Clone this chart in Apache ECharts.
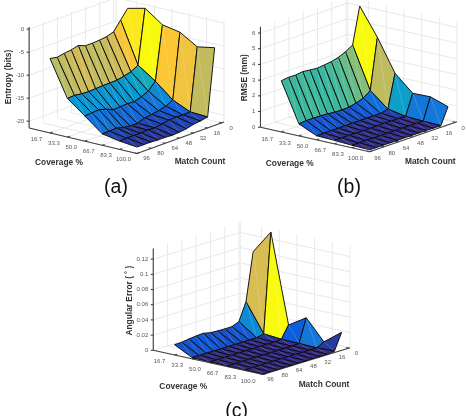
<!DOCTYPE html>
<html>
<head>
<meta charset="utf-8">
<style>html,body{margin:0;padding:0;background:#fff}#chart{width:466px;height:416px}</style>
<script src="https://cdn.jsdelivr.net/npm/echarts@6/dist/echarts.min.js"></script>
</head>
<body>
<div id="chart"></div>
<script>
// Axis values shared by the three surfaces
const coverageValues = [16.67, 33.33, 50, 66.67, 83.33, 100];
const coverageTicks = ['16.7', '33.3', '50.0', '66.7', '83.3', '100.0'];
const matchValues = [96, 88, 80, 72, 64, 56, 48, 40, 32, 24, 16, 8];
const matchTicks = [0, 16, 32, 48, 64, 80, 96];

// One row per coverage value, each listed in matchValues order
const entropyBits = [
  [-5.3, -5.6, -5.3, -5.1, -4.7, -5.3, -5.3, -5.2, -5.0, -4.5, -2.5, -0.5],
  [-13.1, -13.0, -13.2, -13.3, -13.2, -13.1, -13.1, -13.0, -12.7, -12.3, -11.4, 0.4],
  [-16.0, -15.9, -15.8, -16.2, -16.9, -16.8, -16.7, -16.8, -16.3, -15.6, -14.0, -2.3],
  [-19.0, -19.0, -18.9, -19.3, -19.5, -19.5, -18.9, -18.7, -18.4, -18.0, -17.2, -3.0],
  [-19.7, -19.6, -19.6, -19.6, -19.5, -19.6, -19.3, -19.0, -18.9, -19.0, -18.9, -5.3],
  [-20.1, -20.1, -20.1, -20.2, -20.2, -20.3, -20.2, -20.0, -19.6, -19.4, -19.1, -4.6]
];
const rmseMm = [
  [3.26, 3.32, 3.31, 3.37, 3.32, 3.27, 3.32, 3.38, 3.50, 3.70, 3.97, 6.30],
  [0.76, 0.81, 0.81, 0.80, 0.77, 0.72, 0.71, 0.73, 0.83, 0.99, 1.32, 4.56],
  [0.26, 0.26, 0.27, 0.26, 0.27, 0.27, 0.28, 0.28, 0.28, 0.28, 0.40, 2.52],
  [0.22, 0.21, 0.22, 0.20, 0.21, 0.20, 0.20, 0.21, 0.20, 0.20, 0.18, 1.50],
  [0.16, 0.15, 0.16, 0.15, 0.15, 0.16, 0.15, 0.15, 0.14, 0.15, 0.13, 1.53],
  [0.12, 0.11, 0.12, 0.11, 0.11, 0.12, 0.11, 0.11, 0.11, 0.10, 0.10, 1.15]
];
const angularErrorDeg = [
  [0.0136, 0.0138, 0.0153, 0.0163, 0.0170, 0.0149, 0.0142, 0.0139, 0.0141, 0.0178, 0.0412, 0.1040],
  [0.0016, 0.0016, 0.0017, 0.0016, 0.0016, 0.0017, 0.0016, 0.0016, 0.0017, 0.0018, 0.0040, 0.1350],
  [0.0012, 0.0012, 0.0012, 0.0011, 0.0012, 0.0012, 0.0011, 0.0012, 0.0012, 0.0012, 0.0020, 0.0179],
  [0.0010, 0.0010, 0.0011, 0.0010, 0.0010, 0.0010, 0.0010, 0.0011, 0.0010, 0.0010, 0.0016, 0.0325],
  [0.0010, 0.0010, 0.0010, 0.0010, 0.0009, 0.0010, 0.0010, 0.0010, 0.0009, 0.0010, 0.0010, 0.0060],
  [0.0008, 0.0009, 0.0008, 0.0009, 0.0008, 0.0009, 0.0008, 0.0009, 0.0008, 0.0009, 0.0020, 0.0237]
];

const entropyTicks = [0, -5, -10, -15, -20];
const rmseTicks = [0, 1, 2, 3, 4, 5, 6];
const angularTicks = [0, 0.02, 0.04, 0.06, 0.08, 0.1, 0.12];

// Colormap stops, low to high
const colorStops = [
  [53, 42, 135], [15, 92, 221], [18, 125, 216], [6, 156, 207], [45, 183, 164],
  [135, 191, 119], [209, 187, 89], [254, 200, 50], [249, 251, 14]
];

// View of each box: position of the (coverage 100, match 96) floor corner,
// pixel step per coverage tick and per match step of 8, vertical scale.
const panels = [
  { rows: entropyBits, zTicks: entropyTicks, zTitle: 'Entropy (bits)', caption: '(a)',
    front: [137, 153.5], covStep: [17.4, 4.1], matchStep: [7.06, -2.55], zScale: 4.6,
    zFloor: -21.5, zTop: 0.5, covSpan: 6.2, matchSpan: 12.32,
    covLabel: [-13.5, 6], matchLabel: [9.5, 5],
    zTitlePos: [9, 77], covTitlePos: [59, 163], matchTitlePos: [200, 162], captionPos: [116, 188] },
  { rows: rmseMm, zTicks: rmseTicks, zTitle: 'RMSE (mm)', caption: '(b)',
    front: [369.6, 151.7], covStep: [17.66, 3.96], matchStep: [7.13, -2.45], zScale: 15.7,
    zFloor: 0, zTop: 6.4, covSpan: 6.18, matchSpan: 12.26,
    covLabel: [-14, 7], matchLabel: [8, 6.5],
    zTitlePos: [244.7, 77.7], covTitlePos: [289.7, 163.3], matchTitlePos: [430.3, 162], captionPos: [349, 188] },
  { rows: angularErrorDeg, zTicks: angularTicks, zTitle: 'Angular Error ( ˚ )', caption: '(c)',
    front: [263, 374.5], covStep: [17.7, 3.9], matchStep: [7.15, -2.2], zScale: 760,
    zFloor: 0, zTop: 0.134, covSpan: 6.2, matchSpan: 12.17,
    covLabel: [-15, 6.5], matchLabel: [7.5, 5],
    zTitlePos: [130, 300.7], covTitlePos: [183.3, 386.3], matchTitlePos: [324, 385], captionPos: [236.7, 411.7] }
];

panels.forEach(p => {
  const all = p.rows.flat();
  p.cMin = Math.min(...all);
  p.cMax = Math.max(...all);
  p.covMin = 100 - p.covSpan * (100 / 6);
  p.matchMin = 96 - p.matchSpan * 8;
});

// Orthographic projection of (coverage, match, height) into chart space
function project(p, cov, match, z) {
  const a = (100 - cov) / (100 / 6);
  const b = (96 - match) / 8;
  return [
    p.front[0] - a * p.covStep[0] + b * p.matchStep[0],
    p.front[1] - a * p.covStep[1] + b * p.matchStep[1] - (z - p.zFloor) * p.zScale
  ];
}

function colorFor(p, z) {
  const t = Math.max(0, Math.min(1, (z - p.cMin) / (p.cMax - p.cMin))) * (colorStops.length - 1);
  const k = Math.min(colorStops.length - 2, Math.floor(t));
  const f = t - k;
  const c = colorStops[k].map((v, n) => Math.round(v + (colorStops[k + 1][n] - v) * f));
  return 'rgb(' + c.join(',') + ')';
}

// Wall and floor rules, axis lines and tick marks for one box
function frameLines(p) {
  const grid = [], axis = [];
  const cm = p.covMin, mm = p.matchMin, zf = p.zFloor, zt = p.zTop;
  const seg = (list, a, b) => list.push([a, b]);
  p.zTicks.forEach(z => {
    seg(grid, project(p, cm, 96, z), project(p, cm, mm, z));
    seg(grid, project(p, cm, mm, z), project(p, 100, mm, z));
  });
  coverageValues.forEach(c => {
    seg(grid, project(p, c, 96, zf), project(p, c, mm, zf));
    seg(grid, project(p, c, mm, zf), project(p, c, mm, zt));
  });
  matchTicks.forEach(m => {
    seg(grid, project(p, cm, m, zf), project(p, 100, m, zf));
    seg(grid, project(p, cm, m, zf), project(p, cm, m, zt));
  });
  seg(grid, project(p, cm, mm, zf), project(p, cm, mm, zt));
  seg(axis, project(p, cm, 96, zf), project(p, cm, 96, zt));
  seg(axis, project(p, cm, 96, zf), project(p, 100, 96, zf));
  seg(axis, project(p, 100, 96, zf), project(p, 100, mm, zf));
  p.zTicks.forEach(z => {
    const q = project(p, cm, 96, z);
    seg(axis, q, [q[0] - 2.5, q[1]]);
  });
  coverageValues.forEach(c => {
    const q = project(p, c, 96, zf);
    seg(axis, q, [q[0] + p.matchStep[0] * 0.35, q[1] + p.matchStep[1] * 0.35]);
  });
  matchTicks.forEach(m => {
    const q = project(p, 100, m, zf);
    seg(axis, q, [q[0] - p.covStep[0] * 0.14, q[1] - p.covStep[1] * 0.14]);
  });
  return { grid, axis };
}

const gridSegs = [], axisSegs = [];
panels.forEach(p => {
  const f = frameLines(p);
  gridSegs.push(...f.grid);
  axisSegs.push(...f.axis);
});

// Far cells first so that nearer ones paint over them
const cellData = [];
panels.forEach((p, pi) => {
  for (let i = 0; i < coverageValues.length - 1; i++) {
    for (let j = matchValues.length - 2; j >= 0; j--) cellData.push([pi, i, j]);
  }
});

// Text items: [text, x, y, size, weight, colour, align, rotation]
const textData = [];
const tickColor = '#585858', titleColor = '#333333';
panels.forEach(p => {
  p.zTicks.forEach(z => {
    const q = project(p, p.covMin, 96, z);
    textData.push([String(z), q[0] - 5, q[1], 6, 'normal', tickColor, 'right', 0]);
  });
  coverageTicks.forEach((t, n) => {
    const q = project(p, coverageValues[n], 96, p.zFloor);
    textData.push([t, q[0] + p.covLabel[0], q[1] + p.covLabel[1], 6, 'normal', tickColor, 'center', 0]);
  });
  matchTicks.forEach(m => {
    const q = project(p, 100, m, p.zFloor);
    textData.push([String(m), q[0] + p.matchLabel[0], q[1] + p.matchLabel[1], 6, 'normal', tickColor, 'center', 0]);
  });
  textData.push([p.zTitle, p.zTitlePos[0], p.zTitlePos[1], 8.4, 'bold', titleColor, 'center', Math.PI / 2]);
  textData.push(['Coverage %', p.covTitlePos[0], p.covTitlePos[1], 8.4, 'bold', titleColor, 'center', 0]);
  textData.push(['Match Count', p.matchTitlePos[0], p.matchTitlePos[1], 8.4, 'bold', titleColor, 'center', 0]);
  textData.push([p.caption, p.captionPos[0], p.captionPos[1], 19.5, 'normal', '#111', 'center', 0]);
});

function segSeries(segs, color, width) {
  return {
    type: 'custom', xAxisIndex: 0, yAxisIndex: 0, silent: true,
    data: segs.map((s, n) => [n]),
    renderItem(params, api) {
      const s = segs[params.dataIndex];
      const a = api.coord(s[0]), b = api.coord(s[1]);
      return { type: 'line', shape: { x1: a[0], y1: a[1], x2: b[0], y2: b[1] },
               style: { stroke: color, lineWidth: width, fill: null } };
    }
  };
}

const chart = echarts.init(document.getElementById('chart'), null, { renderer: 'canvas' });
chart.setOption({
  animation: false,
  backgroundColor: '#fff',
  grid: { left: 0, right: 0, top: 0, bottom: 0 },
  xAxis: { type: 'value', min: 0, max: 466, show: false },
  yAxis: { type: 'value', min: 0, max: 416, inverse: true, show: false },
  series: [
    segSeries(gridSegs, '#e9e9e9', 1),
    segSeries(axisSegs, '#404040', 1.1),
    {
      type: 'custom', silent: true, clip: false,
      data: cellData,
      renderItem(params, api) {
        const [pi, i, j] = cellData[params.dataIndex];
        const p = panels[pi];
        const pt = (a, b) => api.coord(project(p, coverageValues[a], matchValues[b], p.rows[a][b]));
        const c00 = pt(i, j), c01 = pt(i, j + 1), c11 = pt(i + 1, j + 1), c10 = pt(i + 1, j);
        return {
          type: 'group',
          children: [
            { type: 'polygon', shape: { points: [c00, c01, c11, c10] },
              style: { fill: colorFor(p, p.rows[i][j + 1]), stroke: '#0c0c0c', lineWidth: 0.95, lineJoin: 'round' } },
            { type: 'line', shape: { x1: c01[0], y1: c01[1], x2: c10[0], y2: c10[1] },
              style: { stroke: 'rgba(255,255,255,0.28)', lineWidth: 0.6 } }
          ]
        };
      }
    },
    {
      type: 'custom', silent: true, clip: false,
      data: textData.map((t, n) => [n]),
      renderItem(params, api) {
        const t = textData[params.dataIndex];
        const q = api.coord([t[1], t[2]]);
        return {
          type: 'text', x: q[0], y: q[1], rotation: t[7],
          style: { text: t[0], fontFamily: '"Liberation Sans", Arial, sans-serif', fontSize: t[3], fontWeight: t[4],
                   fill: t[5], align: t[6], verticalAlign: 'middle' }
        };
      }
    }
  ]
});
</script>
</body>
</html>
